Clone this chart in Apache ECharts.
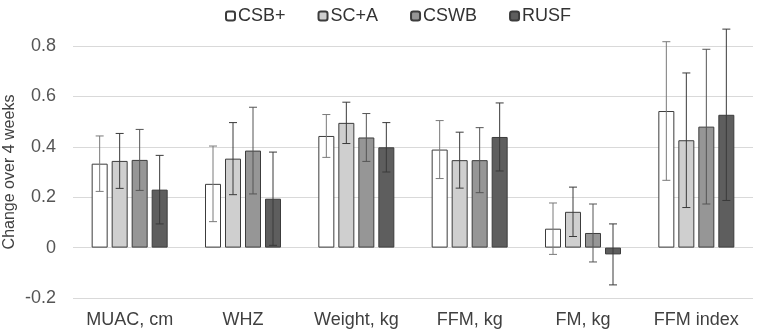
<!DOCTYPE html>
<html>
<head>
<meta charset="utf-8">
<script src="https://cdn.jsdelivr.net/npm/echarts@6/dist/echarts.min.js"></script>
<style>
  html, body { margin: 0; padding: 0; background: #fff; }
  #chart { width: 757px; height: 333px; }
</style>
</head>
<body>
<div id="chart"></div>
<script>
const categories = ['MUAC, cm', 'WHZ', 'Weight, kg', 'FFM, kg', 'FM, kg', 'FFM index']
const seriesNames = ['CSB+', 'SC+A', 'CSWB', 'RUSF']

// means
const csbMean = [0.333, 0.253, 0.443, 0.389, 0.075, 0.542]
const scaMean = [0.344, 0.353, 0.495, 0.347, 0.142, 0.426]
const cswbMean = [0.348, 0.385, 0.437, 0.347, 0.058, 0.480]
const rusfMean = [0.230, 0.194, 0.398, 0.439, -0.027, 0.527]

// error bar half-lengths
const csbErr = [0.110, 0.150, 0.085, 0.115, 0.102, 0.275]
const scaErr = [0.109, 0.143, 0.082, 0.111, 0.098, 0.267]
const cswbErr = [0.121, 0.172, 0.095, 0.129, 0.115, 0.307]
const rusfErr = [0.136, 0.185, 0.098, 0.135, 0.121, 0.340]

const yTicks = [-0.2, 0, 0.2, 0.4, 0.6, 0.8]

const means = [csbMean, scaMean, cswbMean, rusfMean]
const errs = [csbErr, scaErr, cswbErr, rusfErr]
const colors = ['#ffffff', '#cfcfcf', '#969696', '#5e5e5e']
const errColors = ['#7a7a7a', '#3a3a3a', '#555555', '#3a3a3a']

const barWidth = 16
const barStep = 20

const chart = echarts.init(document.getElementById('chart'))

let series = []
means.forEach((m, i) => {
  series.push({
    name: seriesNames[i],
    type: 'bar',
    data: m,
    barWidth: barWidth,
    barGap: '25%',
    itemStyle: {
      color: colors[i],
      borderColor: '#3c3c3c',
      borderWidth: 1
    }
  })
})
means.forEach((m, i) => {
  const offset = (i - 1.5) * barStep
  series.push({
    name: 'err' + i,
    type: 'custom',
    clip: false,
    z: 5,
    data: m.map((v, k) => [k, v - errs[i][k], v + errs[i][k]]),
    encode: { x: 0, y: [1, 2] },
    renderItem: function (params, api) {
      const lo = api.coord([api.value(0), api.value(1)])
      const hi = api.coord([api.value(0), api.value(2)])
      const x = lo[0] + offset
      const cap = 4
      const style = { stroke: errColors[i], lineWidth: 1 }
      return {
        type: 'group',
        children: [
          { type: 'line', shape: { x1: x, y1: lo[1], x2: x, y2: hi[1] }, style: style },
          { type: 'line', shape: { x1: x - cap, y1: lo[1], x2: x + cap, y2: lo[1] }, style: style },
          { type: 'line', shape: { x1: x - cap, y1: hi[1], x2: x + cap, y2: hi[1] }, style: style }
        ]
      }
    }
  })
})

chart.setOption({
  animation: false,
  textStyle: { fontFamily: 'Liberation Sans, Arial, sans-serif' },
  legend: {
    data: seriesNames,
    top: 2,
    left: 220,
    itemWidth: 9,
    itemHeight: 9,
    itemGap: 32,
    textStyle: { fontSize: 18, color: '#333', padding: [0, 0, 0, -2] }
  },
  grid: {
    left: 73,
    right: 4,
    top: 46,
    bottom: 35,
    outerBoundsMode: 'none'
  },
  xAxis: {
    type: 'category',
    data: categories,
    axisLine: { show: false, onZero: false },
    axisTick: { show: false },
    axisLabel: { fontSize: 18, color: '#404040', margin: 13, interval: 0 }
  },
  yAxis: {
    type: 'value',
    min: yTicks[0],
    max: yTicks[yTicks.length - 1],
    interval: 0.2,
    name: 'Change over 4 weeks',
    nameLocation: 'middle',
    nameRotate: 90,
    nameGap: 55,
    nameMoveOverlap: false,
    nameTextStyle: { fontSize: 16, color: '#404040' },
    axisLabel: {
      fontSize: 18,
      color: '#555',
      margin: 17,
      formatter: v => String(Math.round(v * 10) / 10)
    },
    splitLine: { lineStyle: { color: '#d9d9d9', width: 1 } },
    axisLine: { show: false },
    axisTick: { show: false }
  },
  series: series
})
</script>
</body>
</html>
